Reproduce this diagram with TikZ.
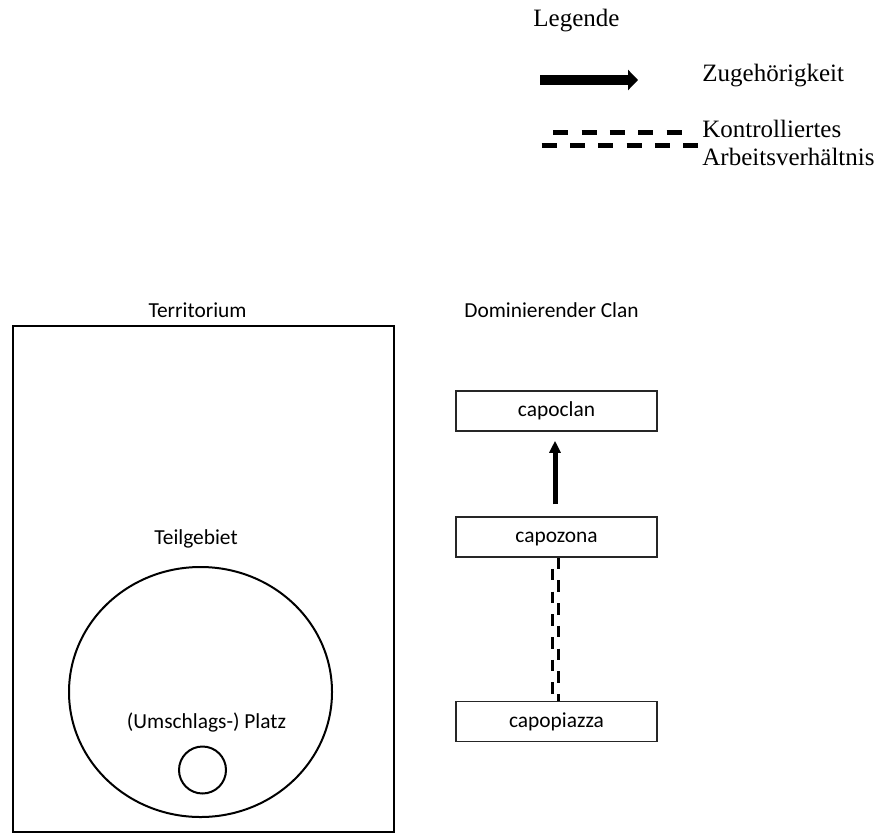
\documentclass[tikz,border=0pt]{standalone}
\usepackage{fontspec}
\setmainfont{Liberation Serif}
\newfontfamily\labelfont{Carlito}
\usetikzlibrary{arrows.meta,shapes.geometric,calc}

\begin{document}
\begin{tikzpicture}[x=0.5pt,y=-0.5pt,
  lbl/.style={font=\labelfont\fontsize{10.7pt}{12pt}\selectfont, inner sep=0pt, anchor=base},
  legtext/.style={font=\fontsize{12.5pt}{15pt}\selectfont, inner sep=0pt, anchor=base west},
  rolebox/.style={draw=black!85, line width=0.75pt, minimum width=100.5pt,
    minimum height=20pt, inner sep=0pt, text height=8pt, text depth=2.5pt,
    font=\labelfont\fontsize{10.7pt}{12pt}\selectfont},
  region/.style={draw=black, line width=1pt, inner sep=0pt},
  belongs/.style={line width=2.5pt, -{Triangle[length=6pt,width=5.5pt]}},
  ctrl/.style={line width=1.75pt, dash pattern=on 5.75pt off 5.6pt},
  legdash/.style={line width=2.5pt, dash pattern=on 7.5pt off 6.65pt},
]
\useasboundingbox (0,0) rectangle (886,834);

% legend
\node[legtext] (legtitle) at (533,27) {Legende};
\coordinate (legA1) at (540,80);
\coordinate (legA2) at (638,80);
\draw[line width=5pt, -{Triangle[length=5pt,width=10pt]}] (legA1) -- (legA2);
\node[legtext] (legbelong) at (702,82) {Zugehörigkeit};
\coordinate (legD1) at (553.3,132.7);
\coordinate (legD2) at (682,132.7);
\coordinate (legD3) at (541.7,145.3);
\coordinate (legD4) at (698.3,145.3);
\draw[legdash] (legD1) -- (legD2);
\draw[legdash] (legD3) -- (legD4);
\node[legtext] (legctrl1) at (702,138) {Kontrolliertes};
\node[legtext] (legctrl2) at (702,165) {Arbeitsverhältnis};

% territory
\node[lbl] (terrlabel) at (197.5,317) {Territorium};
\node[region, rectangle, minimum width=190.5pt, minimum height=253pt] (terr) at (203.5,579) {};
\node[lbl] (teillabel) at (196,544) {Teilgebiet};
\node[region, ellipse, minimum width=131.5pt, minimum height=125pt] (teil) at (200.5,692) {};
\node[lbl] (platzlabel) at (206.5,728) {(Umschlags-) Platz};
\node[region, circle, minimum size=23.5pt] (platz) at (202.5,770) {};

% clan hierarchy
\node[lbl] (clanlabel) at (551.5,317) {Dominierender Clan};
\node[rolebox] (clan) at (556.5,411) {capoclan};
\node[rolebox] (zona) at (556.5,537) {capozona};
\node[rolebox] (piazza) at (556.5,721.5) {capopiazza};

\draw[belongs, shorten <=6pt, shorten >=4.5pt]
  ($(zona.north)+(-1.5,0)$) -- ($(clan.south)+(-1.5,0)$);
\draw[ctrl] ($(zona.south)+(1.8,0)$) -- ($(piazza.north)+(1.8,0)$);
\draw[ctrl, dash phase=5.75pt] ($(zona.south)+(-3.8,0)$) -- ($(piazza.north)+(-3.8,0)$);
\end{tikzpicture}
\end{document}
